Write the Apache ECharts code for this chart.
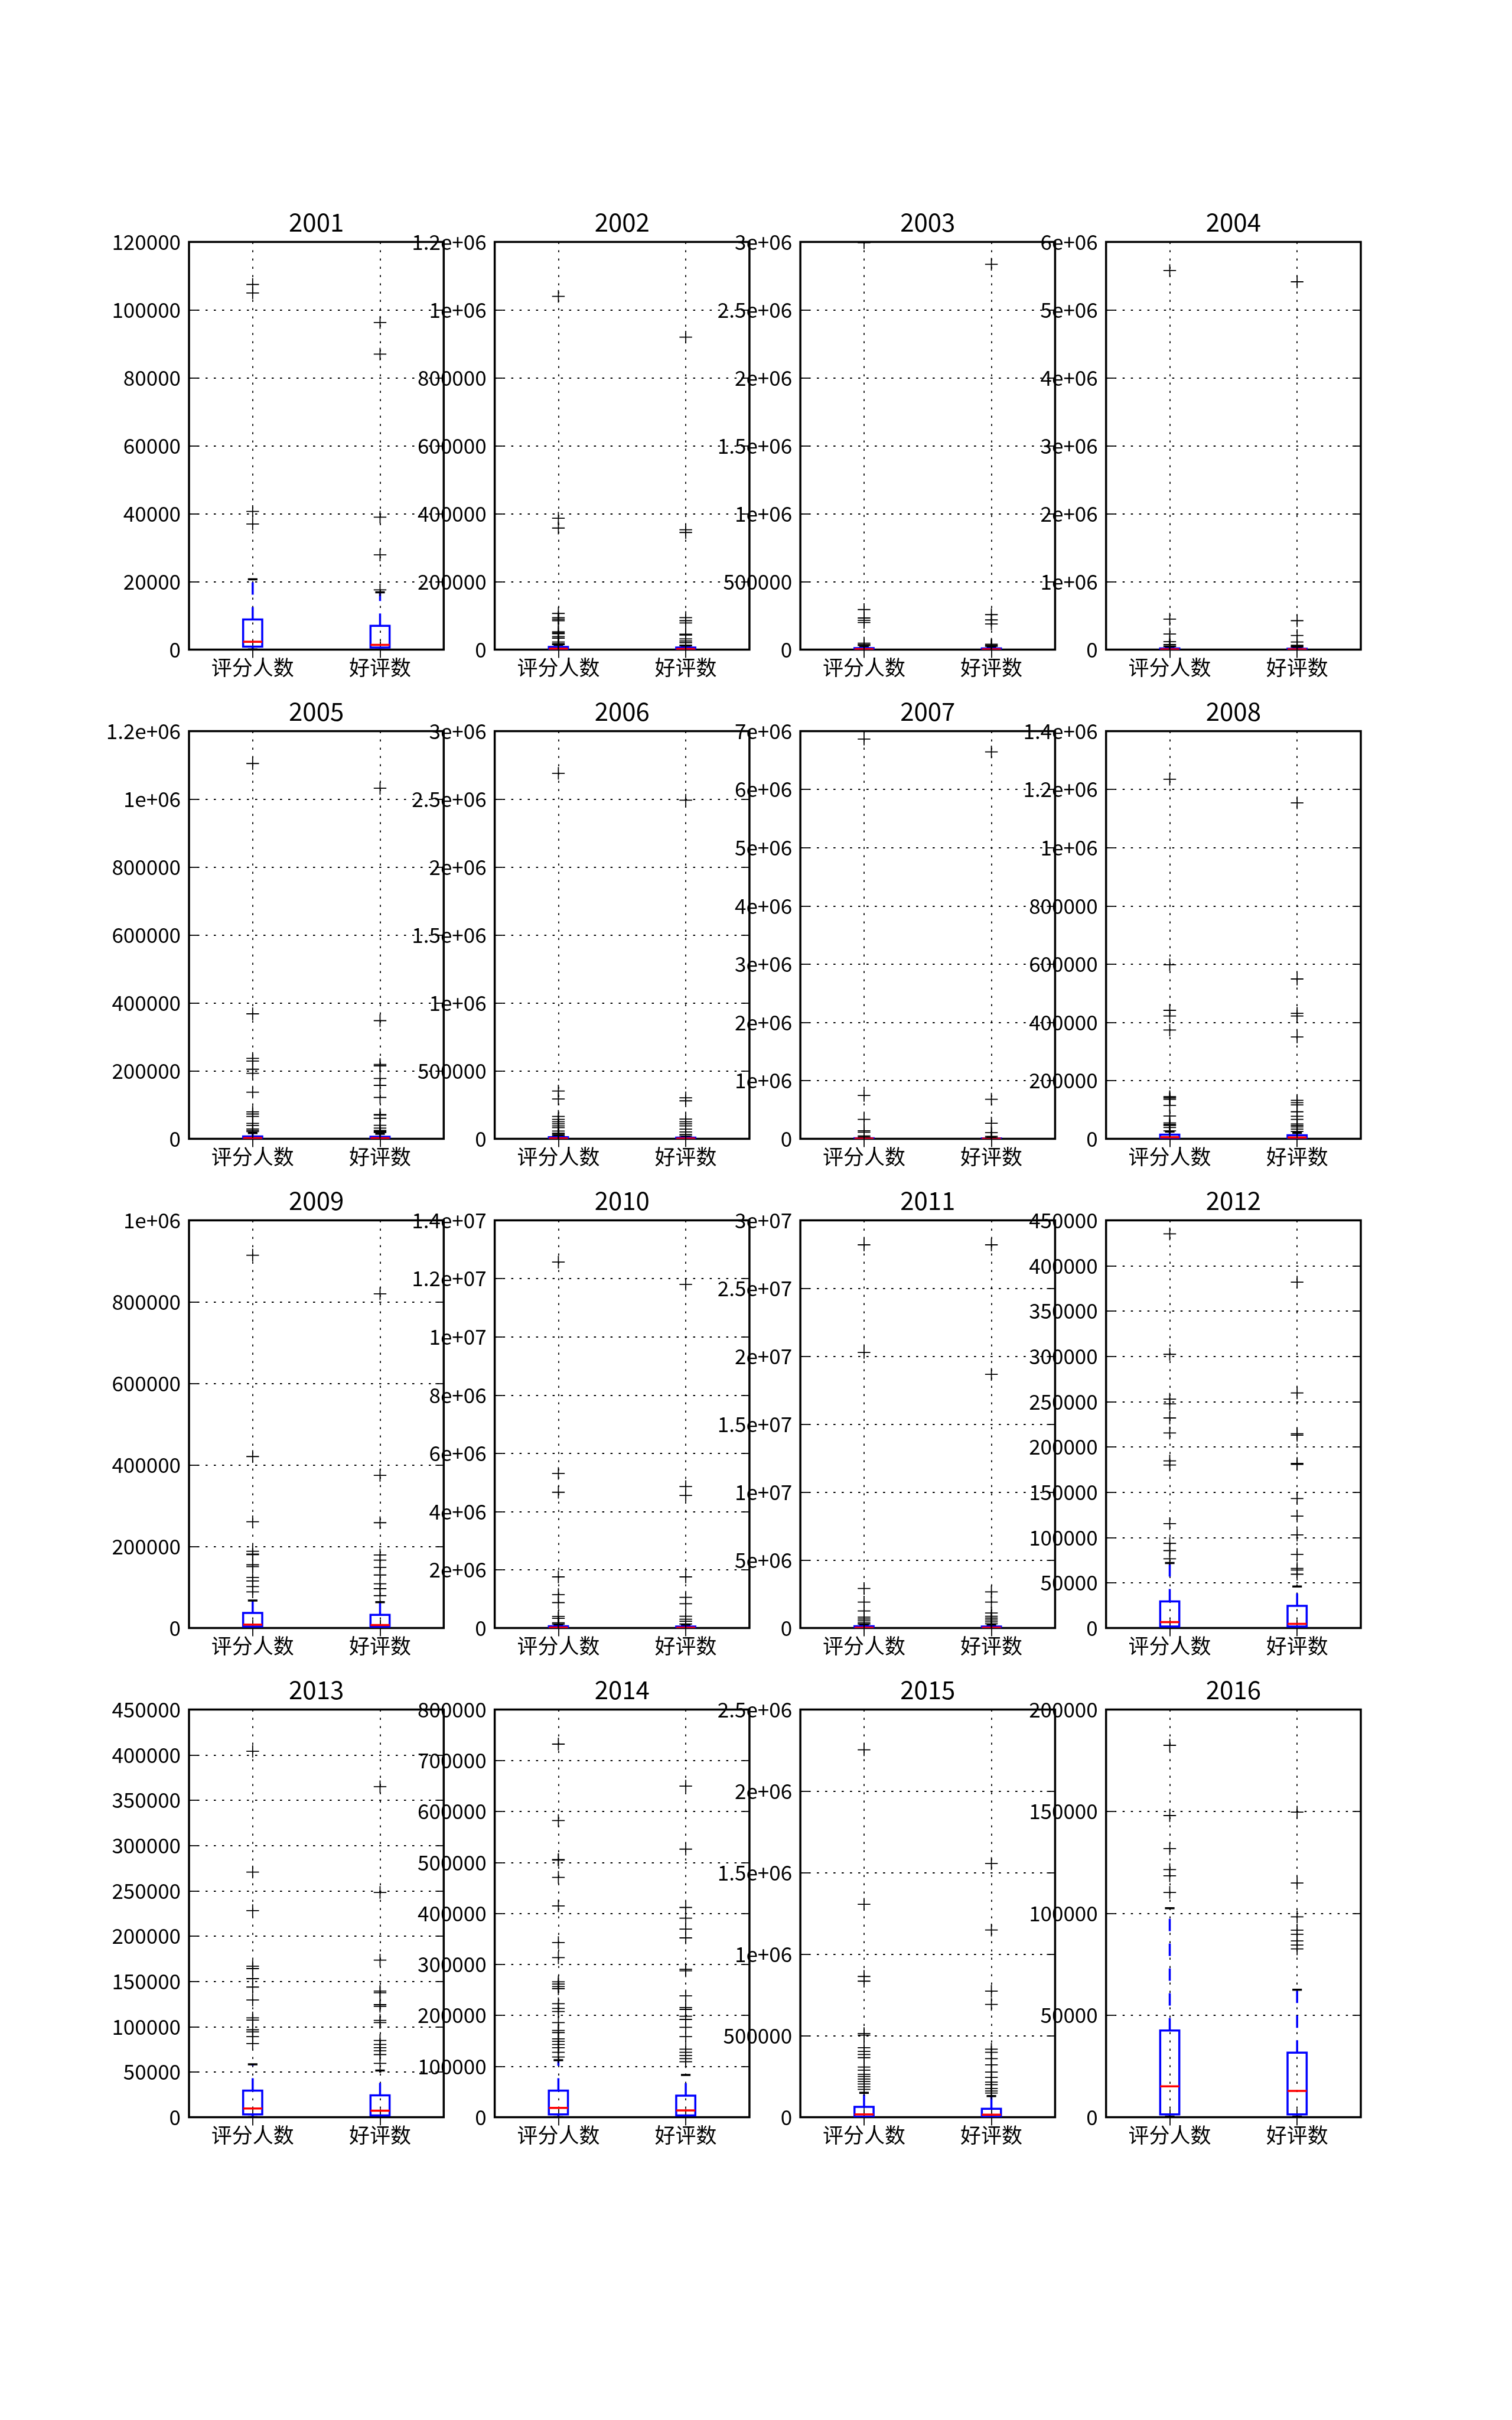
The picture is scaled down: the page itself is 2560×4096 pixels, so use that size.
<!DOCTYPE html>
<html>
<head>
<meta charset="utf-8">
<script src="https://cdn.jsdelivr.net/npm/echarts@6/dist/echarts.min.js"></script>
<style>
html,body{margin:0;padding:0;background:#fff;}
#c{width:2560px;height:4096px;}
</style>
</head>
<body>
<div id="c"></div>
<script>
// ---------------- DATA ----------------
const categories = ['评分人数', '好评数'];
const years = ['2001','2002','2003','2004','2005','2006','2007','2008',
               '2009','2010','2011','2012','2013','2014','2015','2016'];
// y-axis max and tick step for each year panel
const yMax  = [120000, 1200000, 3000000, 6000000, 1200000, 3000000, 7000000, 1400000,
               1000000, 14000000, 30000000, 450000, 450000, 800000, 2500000, 200000];
const yStep = [20000, 200000, 500000, 1000000, 200000, 500000, 1000000, 200000,
               200000, 2000000, 5000000, 50000, 50000, 100000, 500000, 50000];
// box stats: [lower whisker, Q1, median, Q3, upper whisker]
const ratingBox = [
  [50, 900, 2320, 8880, 20700],
  [0, 900, 2600, 8200, 14000],
  [0, 1500, 4000, 11200, 25000],
  [0, 2000, 6000, 18000, 40000],
  [0, 800, 2200, 7000, 17000],
  [0, 1500, 4000, 12100, 20000],
  [0, 2000, 5000, 11000, 25000],
  [0, 1300, 5650, 14300, 25000],
  [0, 3700, 8350, 37100, 67700],
  [0, 5000, 15000, 60600, 120000],
  [0, 10000, 30000, 129900, 250000],
  [0, 1700, 6600, 29400, 71800],
  [0, 3100, 9700, 29400, 58500],
  [0, 5500, 18500, 52300, 112000],
  [0, 3800, 17300, 63500, 150000],
  [300, 1400, 15200, 42600, 102600]
];
const goodBox = [
  [30, 640, 1420, 7000, 16900],
  [0, 500, 1800, 6400, 10500],
  [0, 1000, 3000, 9000, 20000],
  [0, 1500, 5000, 15000, 32000],
  [0, 600, 1800, 6300, 15000],
  [0, 1000, 3000, 9300, 16000],
  [0, 1500, 4000, 9000, 20000],
  [0, 1000, 4800, 12600, 20400],
  [0, 3400, 7400, 32500, 63400],
  [0, 4000, 12000, 52000, 100000],
  [0, 8000, 25000, 110000, 230000],
  [0, 1700, 4600, 24600, 45900],
  [0, 2100, 7300, 24200, 51600],
  [0, 3700, 13500, 42500, 83100],
  [0, 2500, 15400, 51900, 130000],
  [300, 1400, 12900, 31700, 62600]
];
// outliers (fliers)
const ratingOutliers = [
  [107500, 105000, 40700, 37000],
  [1040000, 387000, 358000, 106700, 94400, 89900, 85400, 52400, 49400, 46800, 38600, 34100, 22500, 17600, 15000],
  [2995000, 295000, 233000, 216000, 200000, 48000, 38000, 30000],
  [5580000, 449000, 230000, 118000, 75000, 55000, 45000],
  [1105000, 368000, 237000, 229000, 205000, 193000, 137500, 79600, 73200, 66200, 45700, 39400, 29000, 24900, 21200],
  [2690000, 352000, 293700, 165400, 143100, 126400, 110600, 95700, 82700, 57600, 41800, 32500, 24000],
  [6865000, 745700, 334800, 139100, 113000, 50000, 32600],
  [1235000, 598000, 441500, 422000, 373700, 144800, 140900, 136100, 115200, 78700, 54800, 49600, 46100, 39100, 27400],
  [914600, 420800, 260800, 188300, 181500, 180000, 155200, 150600, 124300, 115600, 101700, 88700],
  [12568000, 5310000, 4664000, 1757600, 1147000, 874500, 398300, 333300, 181800, 138500],
  [28200000, 20285000, 2912700, 1910900, 1261500, 807000, 667900, 528700, 389600, 296800],
  [435100, 302200, 252700, 247500, 231900, 215300, 184500, 180000, 115300, 93500, 85500, 76500],
  [404000, 270700, 228100, 166800, 164100, 153000, 143700, 129500, 109700, 107300, 96600, 94200, 89000, 81300],
  [732300, 582200, 505800, 504600, 470800, 414800, 342800, 313200, 265800, 261500, 256600, 252300, 222800, 213500, 207400, 185800, 170500, 166200, 153800, 148900, 142800, 136600, 127400, 118200],
  [2253800, 1305800, 863500, 834600, 513500, 503800, 426900, 403800, 384600, 365400, 307700, 288500, 263500, 250000, 234600, 219200, 203800, 186500, 171200],
  [182500, 148000, 131800, 121500, 118500, 110300]
];
const goodOutliers = [
  [96300, 87000, 39000, 27900, 17600],
  [920000, 353000, 345000, 94400, 85400, 78700, 45700, 43100, 31800, 25500, 20600, 13500, 11200],
  [2836000, 258000, 219000, 189000, 40000, 32000, 25000],
  [5414000, 427000, 208000, 112000, 65000, 50000, 40000],
  [1032000, 348000, 219000, 215000, 177700, 157600, 121900, 71700, 69900, 60600, 40100, 31600, 24900, 21900, 18600],
  [2492000, 302000, 279800, 145900, 126400, 110600, 95700, 71600, 51100, 32500, 21400],
  [6645000, 680400, 269600, 106500, 43500, 21700],
  [1154000, 549000, 431000, 422000, 350000, 132200, 124300, 116500, 93000, 77400, 67000, 51300, 46100, 40900, 33500, 25200],
  [820000, 374600, 258500, 179300, 166700, 149000, 130200, 108800, 96500, 79500],
  [11803000, 4857000, 4555000, 1757600, 1056000, 835500, 407000, 303000, 233800, 138500],
  [28200000, 18670000, 2662000, 1910900, 1103800, 871900, 732800, 593700, 454500, 315300],
  [381800, 259600, 214600, 212900, 181700, 180700, 143000, 123600, 102800, 81300, 65800, 64000, 59400],
  [364900, 248200, 173400, 139200, 137400, 124300, 122500, 107000, 104500, 84800, 80300, 76800, 73400, 69200, 59500],
  [649800, 526200, 411700, 390800, 369200, 352000, 290500, 287400, 238200, 215400, 211700, 198200, 192000, 176600, 158200, 133500, 127400, 121200, 115100, 108900],
  [1555800, 1148100, 773100, 692300, 417300, 398100, 359600, 321200, 276900, 244200, 215400, 200000, 176900, 161500, 148100],
  [149700, 114900, 98300, 91800, 89800, 86500, 84500, 82600]
];

// ---------------- LAYOUT / STYLE ----------------
const colLeft = [320, 837.6, 1355.1, 1872.7];
const rowTop = [409.6, 1237.6, 2065.6, 2893.6];
const PW = 431.3, PH = 690;
const FONT = '"Noto Sans CJK SC", "Noto Sans", sans-serif';
const BLUE = '#0000ff', RED = '#ff0000', BLACK = '#000000';
const LW = 3.5;
const GRID_LINE = {color: BLACK, width: 1.8, type: [3.5, 10.5]};

function fmtG(v) {
  if (v === 0) return '0';
  if (Math.abs(v) < 1e6) return String(Math.round(v));
  const e = Math.floor(Math.log10(v) + 1e-9);
  const m = parseFloat((v / Math.pow(10, e)).toFixed(5));
  return m + 'e+' + (e < 10 ? '0' : '') + e;
}

function renderBox(params, api) {
  const x = api.value(0);
  const v = [1, 2, 3, 4, 5].map(k => api.value(k));
  const step = api.size([1, 0])[0];
  const bw = step * 0.3, cw = bw / 2;
  const cx = api.coord([x, 0])[0];
  const y = v.map(val => api.coord([x, val])[1]);
  const dash = [21, 21];
  return {
    type: 'group',
    children: [
      {type: 'line', shape: {x1: cx, y1: y[1], x2: cx, y2: y[0]}, style: {stroke: BLUE, lineWidth: LW, lineDash: dash}},
      {type: 'line', shape: {x1: cx, y1: y[3], x2: cx, y2: y[4]}, style: {stroke: BLUE, lineWidth: LW, lineDash: dash}},
      {type: 'line', shape: {x1: cx - cw / 2, y1: y[0], x2: cx + cw / 2, y2: y[0]}, style: {stroke: BLACK, lineWidth: LW}},
      {type: 'line', shape: {x1: cx - cw / 2, y1: y[4], x2: cx + cw / 2, y2: y[4]}, style: {stroke: BLACK, lineWidth: LW}},
      {type: 'rect', shape: {x: cx - bw / 2, y: y[3], width: bw, height: y[1] - y[3]}, style: {stroke: BLUE, lineWidth: LW, fill: 'rgba(0,0,0,0)'}},
      {type: 'line', shape: {x1: cx - bw / 2, y1: y[2], x2: cx + bw / 2, y2: y[2]}, style: {stroke: RED, lineWidth: LW}}
    ]
  };
}

function renderPlus(params, api) {
  const p = api.coord([api.value(0), api.value(1)]);
  const h = 10.7;
  return {
    type: 'group',
    children: [
      {type: 'line', shape: {x1: p[0] - h, y1: p[1], x2: p[0] + h, y2: p[1]}, style: {stroke: BLACK, lineWidth: 1.8}},
      {type: 'line', shape: {x1: p[0], y1: p[1] - h, x2: p[0], y2: p[1] + h}, style: {stroke: BLACK, lineWidth: 1.8}}
    ]
  };
}

const xData = ['_l', categories[0], '_m', categories[1], '_r'];
const onCat = (idx) => idx % 2 === 1;
const grids = [], xAxes = [], yAxes = [], titles = [], series = [];

for (let i = 0; i < years.length; i++) {
  const r = Math.floor(i / 4), c = i % 4;
  const left = colLeft[c], top = rowTop[r];
  grids.push({left: left, top: top, width: PW, height: PH, show: true,
    borderColor: BLACK, borderWidth: LW, backgroundColor: 'transparent',
    containLabel: false, outerBoundsMode: 'none'});
  titles.push({text: years[i], left: left + PW / 2, top: top - 56, textAlign: 'center', padding: 0,
    textStyle: {fontFamily: FONT, fontSize: 42, fontWeight: 'normal', color: BLACK, lineHeight: 44}});
  const tick = {show: true, inside: true, length: 14, interval: onCat, lineStyle: {color: BLACK, width: 1.8}};
  xAxes.push({gridIndex: i, type: 'category', data: xData, boundaryGap: false, position: 'bottom',
    axisLine: {show: false}, axisTick: tick,
    axisLabel: {interval: onCat, margin: 13, fontFamily: FONT, fontSize: 35, color: BLACK},
    splitLine: {show: true, interval: onCat, lineStyle: GRID_LINE}});
  xAxes.push({gridIndex: i, type: 'category', data: xData, boundaryGap: false, position: 'top',
    axisLine: {show: false}, axisTick: tick, axisLabel: {show: false}, splitLine: {show: false}});
  const ytick = {show: true, inside: true, length: 14, lineStyle: {color: BLACK, width: 1.8}};
  yAxes.push({gridIndex: i, type: 'value', min: 0, max: yMax[i], interval: yStep[i], position: 'left',
    axisLine: {show: false}, axisTick: ytick,
    axisLabel: {formatter: fmtG, margin: 14, fontFamily: FONT, fontSize: 35, color: BLACK,
      showMinLabel: true, showMaxLabel: true},
    splitLine: {show: true, lineStyle: GRID_LINE}});
  yAxes.push({gridIndex: i, type: 'value', min: 0, max: yMax[i], interval: yStep[i], position: 'right',
    axisLine: {show: false}, axisTick: ytick, axisLabel: {show: false}, splitLine: {show: false}});

  series.push({type: 'custom', xAxisIndex: 2 * i, yAxisIndex: 2 * i, clip: true, silent: true,
    renderItem: renderBox, encode: {x: 0, y: [1, 2, 3, 4, 5]},
    data: [[categories[0]].concat(ratingBox[i]), [categories[1]].concat(goodBox[i])]});
  const fl = ratingOutliers[i].map(v => [categories[0], v])
    .concat(goodOutliers[i].map(v => [categories[1], v]));
  series.push({type: 'custom', xAxisIndex: 2 * i, yAxisIndex: 2 * i, clip: true, silent: true,
    renderItem: renderPlus, encode: {x: 0, y: 1}, data: fl, z: 3});
}

const chart = echarts.init(document.getElementById('c'), null, {renderer: 'canvas', width: 2560, height: 4096});
chart.setOption({
  animation: false,
  backgroundColor: '#ffffff',
  title: titles,
  grid: grids,
  xAxis: xAxes,
  yAxis: yAxes,
  series: series
});
</script>
</body>
</html>
